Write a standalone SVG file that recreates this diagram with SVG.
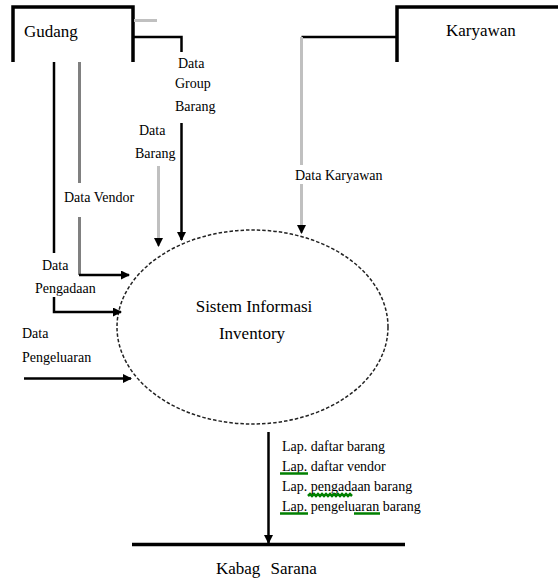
<svg xmlns="http://www.w3.org/2000/svg" width="558" height="582" viewBox="0 0 558 582" font-family="'Liberation Serif', 'Times New Roman', serif">
<style>
text{font-family:"Liberation Serif","Times New Roman",serif;fill:#000}
.lbl{font-size:14px}
.big{font-size:17px}
.blk{stroke:#000;stroke-width:2.5;fill:none}
.box{stroke:#000;stroke-width:3.5;fill:none}
.gry{stroke:#c0c0c0;stroke-width:3;fill:none}
.gry2{stroke:#808080;stroke-width:3;fill:none}
.grn{stroke:#008000;stroke-width:2.5;fill:none}
</style>
<defs>
<marker id="ah" markerUnits="userSpaceOnUse" markerWidth="9" markerHeight="9" refX="8" refY="4.5" orient="auto">
<path d="M0,0 L9,4.5 L0,9 z" fill="#000"/>
</marker>
</defs>
<rect width="558" height="582" fill="#fff"/>
<g id="gudang">
<path class="box" d="M13,62 V7 H133 V62"/>
<text class="big" x="24" y="37">Gudang</text>
</g>
<g id="karyawan">
<path class="box" d="M397,62 V7 H558"/>
<text class="big" x="446" y="36">Karyawan</text>
</g>
<g id="sistem">
<ellipse cx="252.5" cy="327" rx="135.5" ry="97" fill="none" stroke="#222" stroke-width="1.5" stroke-dasharray="3.5,2"/>
<text class="big" x="254" y="312" text-anchor="middle">Sistem Informasi</text>
<text class="big" x="252" y="339" text-anchor="middle">Inventory</text>
</g>
<g id="kabag">
<path class="box" d="M132,544.5 H405" stroke-width="3"/>
<text class="big" x="216" y="574" word-spacing="6">Kabag Sarana</text>
</g>
<g id="connectors">
<path class="gry" d="M134,20.5 H157"/>
<path class="blk" d="M134,37 H181.5 V52"/>
<path class="blk" d="M181.5,123 V240" marker-end="url(#ah)"/>
<text class="lbl" x="178" y="68">Data</text>
<text class="lbl" x="175" y="88">Group</text>
<text class="lbl" x="175" y="111">Barang</text>
<path class="gry" d="M158.5,166 V246" marker-end="url(#ah)"/>
<text class="lbl" x="139" y="135">Data</text>
<text class="lbl" x="135" y="158">Barang</text>
<path class="gry2" d="M79.5,62 V183"/>
<path class="gry2" d="M79.5,217 V275"/>
<path class="blk" d="M79,275 H129" marker-end="url(#ah)"/>
<text class="lbl" x="64" y="202">Data Vendor</text>
<path class="blk" d="M54,62 V253"/>
<path class="blk" d="M54,297 V312 H121" marker-end="url(#ah)"/>
<text class="lbl" x="42" y="270">Data</text>
<text class="lbl" x="35" y="293">Pengadaan</text>
<path class="blk" d="M24,378.5 H131" marker-end="url(#ah)"/>
<text class="lbl" x="22" y="338">Data</text>
<text class="lbl" x="22" y="362">Pengeluaran</text>
<path class="blk" d="M397,37 H301.5"/>
<path class="gry" d="M301.5,37 V165"/>
<path class="gry" d="M301.5,184 V233" marker-end="url(#ah)"/>
<text class="lbl" x="295" y="180">Data Karyawan</text>
<path class="blk" d="M268.5,432 V543" stroke-width="3" marker-end="url(#ah)"/>
<text class="lbl" x="282" y="451">Lap. daftar barang</text>
<text class="lbl" x="282" y="471">Lap. daftar vendor</text>
<text class="lbl" x="282" y="491">Lap. pengadaan barang</text>
<text class="lbl" x="282" y="511">Lap. pengeluaran barang</text>
<path class="grn" d="M280,473.5 H308"/>
<path class="grn" stroke-width="1.5" d="M308,496 l2,-2 l2,2 l2,-2 l2,2 l2,-2 l2,2 l2,-2 l2,2 l2,-2 l2,2 l2,-2 l2,2 l2,-2 l2,2 l2,-2 l2,2 l2,-2 l2,2 l2,-2 l2,2 l2,-2 l2,2"/>
<path class="grn" d="M280,513.5 H308 M354,513.5 H380"/>
</g>
</svg>
